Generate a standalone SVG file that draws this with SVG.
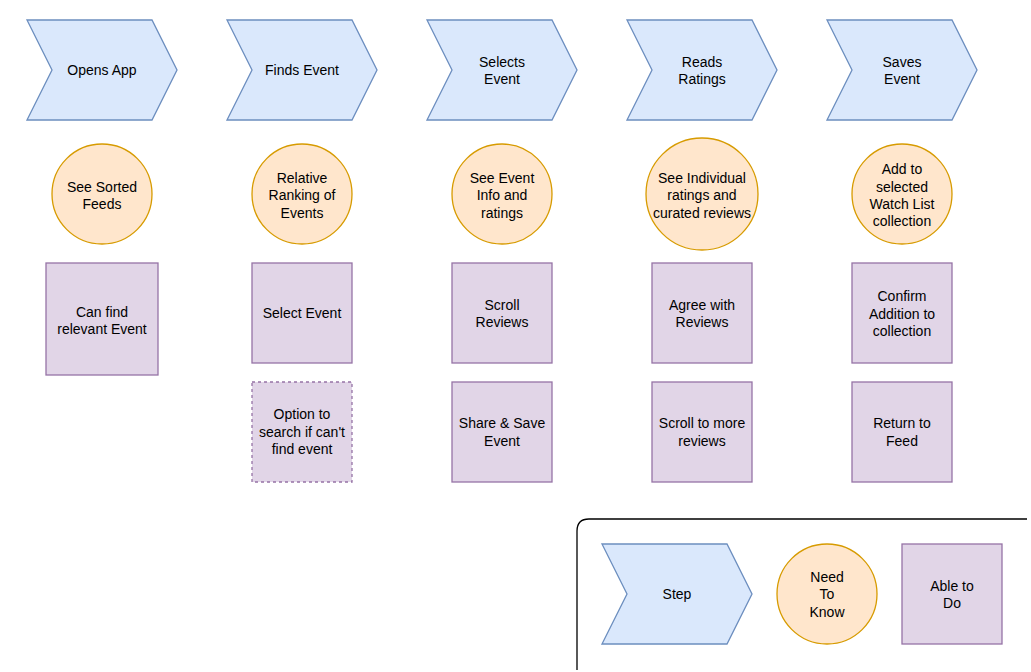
<svg xmlns="http://www.w3.org/2000/svg" width="1031" height="672" viewBox="0 0 1031 672">
<style>
text{font-family:"Liberation Sans",Arial,Helvetica,sans-serif;font-size:14px;fill:#000;text-anchor:middle}
.step{fill:#dae8fc;stroke:#6c8ebf;stroke-width:1.3}
.need{fill:#ffe6cc;stroke:#d79b00;stroke-width:1.3}
.able{fill:#e1d5e7;stroke:#9673a6;stroke-width:1.3}
.dash{stroke-dasharray:3,3}
.legend{fill:none;stroke:#000;stroke-width:1.3}
</style>
<defs>
<polygon id="chev" points="0,0 125,0 150,50 125,100 0,100 25,50"/>
</defs>
<rect width="1031" height="672" fill="#fff"/>
<g id="connectors"/>
<g id="step1"><use href="#chev" class="step" x="27" y="20"/><text x="102" y="75">Opens App</text></g>
<g id="step2"><use href="#chev" class="step" x="227" y="20"/><text x="302" y="75">Finds Event</text></g>
<g id="step3"><use href="#chev" class="step" x="427" y="20"/><text x="502" y="67">Selects</text><text x="502" y="84">Event</text></g>
<g id="step4"><use href="#chev" class="step" x="627" y="20"/><text x="702" y="67">Reads</text><text x="702" y="84">Ratings</text></g>
<g id="step5"><use href="#chev" class="step" x="827" y="20"/><text x="902" y="67">Saves</text><text x="902" y="84">Event</text></g>

<g id="need1"><circle class="need" cx="102" cy="194" r="50"/><text x="102" y="192">See Sorted</text><text x="102" y="209">Feeds</text></g>
<g id="need2"><circle class="need" cx="302" cy="194" r="50"/><text x="302" y="183">Relative</text><text x="302" y="200">Ranking of</text><text x="302" y="218">Events</text></g>
<g id="need3"><circle class="need" cx="502" cy="194" r="50"/><text x="502" y="183">See Event</text><text x="502" y="200">Info and</text><text x="502" y="218">ratings</text></g>
<g id="need4"><circle class="need" cx="702" cy="194" r="56"/><text x="702" y="183">See Individual</text><text x="702" y="200">ratings and</text><text x="702" y="218">curated reviews</text></g>
<g id="need5"><circle class="need" cx="902" cy="194" r="50"/><text x="902" y="174">Add to</text><text x="902" y="192">selected</text><text x="902" y="209">Watch List</text><text x="902" y="226">collection</text></g>

<g id="able1"><rect class="able" x="46" y="263" width="112" height="112"/><text x="102" y="317">Can find</text><text x="102" y="334">relevant Event</text></g>
<g id="able2"><rect class="able" x="252" y="263" width="100" height="100"/><text x="302" y="318">Select Event</text></g>
<g id="able3"><rect class="able" x="452" y="263" width="100" height="100"/><text x="502" y="310">Scroll</text><text x="502" y="327">Reviews</text></g>
<g id="able4"><rect class="able" x="652" y="263" width="100" height="100"/><text x="702" y="310">Agree with</text><text x="702" y="327">Reviews</text></g>
<g id="able5"><rect class="able" x="852" y="263" width="100" height="100"/><text x="902" y="301">Confirm</text><text x="902" y="319">Addition to</text><text x="902" y="336">collection</text></g>

<g id="able2b"><rect class="able dash" x="252" y="382" width="100" height="100"/><text x="302" y="419">Option to</text><text x="302" y="437">search if can't</text><text x="302" y="454">find event</text></g>
<g id="able3b"><rect class="able" x="452" y="382" width="100" height="100"/><text x="502" y="428">Share &amp; Save</text><text x="502" y="446">Event</text></g>
<g id="able4b"><rect class="able" x="652" y="382" width="100" height="100"/><text x="702" y="428">Scroll to more</text><text x="702" y="446">reviews</text></g>
<g id="able5b"><rect class="able" x="852" y="382" width="100" height="100"/><text x="902" y="428">Return to</text><text x="902" y="446">Feed</text></g>

<g id="legend">
<path class="legend" d="M577,670 V531 Q577,519 589,519 H1027"/>
<g id="legend-step"><polygon class="step" points="602,544 727,544 752,594 727,644 602,644 627,594"/><text x="677" y="599">Step</text></g>
<g id="legend-need"><circle class="need" cx="827" cy="594" r="50"/><text x="827" y="582">Need</text><text x="827" y="599">To</text><text x="827" y="617">Know</text></g>
<g id="legend-able"><rect class="able" x="902" y="544" width="100" height="100"/><text x="952" y="591">Able to</text><text x="952" y="608">Do</text></g>
</g>
</svg>
